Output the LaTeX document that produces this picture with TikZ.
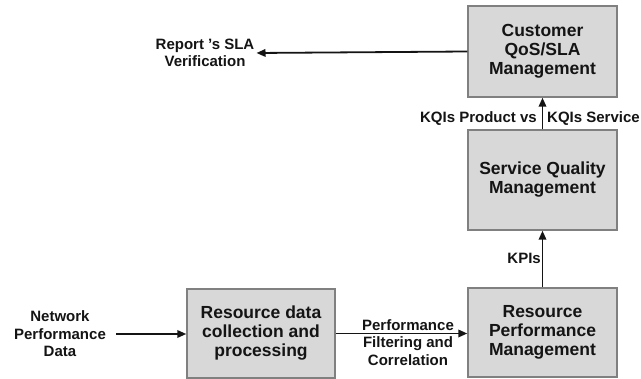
\documentclass[tikz,border=0pt]{standalone}
\usepackage{fontspec}
\setmainfont{Liberation Sans}
\usetikzlibrary{arrows.meta}
\definecolor{boxfill}{RGB}{216,216,216}
\definecolor{boxline}{RGB}{128,128,128}
\definecolor{ink}{RGB}{20,20,20}
\tikzset{
  block/.style={draw=boxline, line width=1.4pt, fill=boxfill, text=ink,
    minimum width=149pt, align=center, inner sep=0pt,
    font=\fontsize{17.5}{19}\selectfont\bfseries},
  lbl/.style={text=ink, align=center, inner sep=0pt,
    font=\fontsize{15}{17.5}\selectfont\bfseries},
  flow/.style={draw=ink, line width=1.8pt,
    -{Triangle[length=9pt,width=7.5pt]}}
}
\begin{document}
\begin{tikzpicture}[x=1pt,y=-1pt]
\useasboundingbox (0,0) rectangle (641,379);

% management blocks
\node[block, minimum height=91pt]  (cust) at (542.5,51.5) {Customer\\QoS/SLA\\Management};
\node[block, minimum height=100pt] (sqm)  at (542.5,180)  {Service Quality\\Management};
\node[block, minimum height=89pt]  (rpm)  at (542.5,332.5) {Resource\\Performance\\Management};
\node[block, minimum height=89pt, minimum width=148pt] (rdc) at (261,333.5) {Resource data\\collection and\\processing};

% free-standing inputs and outputs
\node[lbl, inner xsep=2pt]  (rep) at (205,53)  {Report 's SLA\\Verification};
\node[lbl, inner xsep=10pt] (net) at (60,334)  {Network\\Performance\\Data};

% connectors
\draw[flow] (cust.west) -- (rep.east);
\draw[flow] (net.east) -- (rdc.west |- net.east);
\draw[flow] (rdc.east) -- (rpm.west |- rdc.east);
\draw[flow] (rpm.north) -- (sqm.south);
\draw[flow] (sqm.north) -- (cust.south);

% connector labels
\node[lbl] (pfc) at (408,342.5) {Performance\\Filtering and\\Correlation};
\node[lbl, anchor=east] (kqp) at (537,119) {KQIs Product vs};
\node[lbl, anchor=west] (kqs) at (547,119) {KQIs Service};
\node[lbl, anchor=east] (kpi) at (541,258) {KPIs};
\end{tikzpicture}
\end{document}
